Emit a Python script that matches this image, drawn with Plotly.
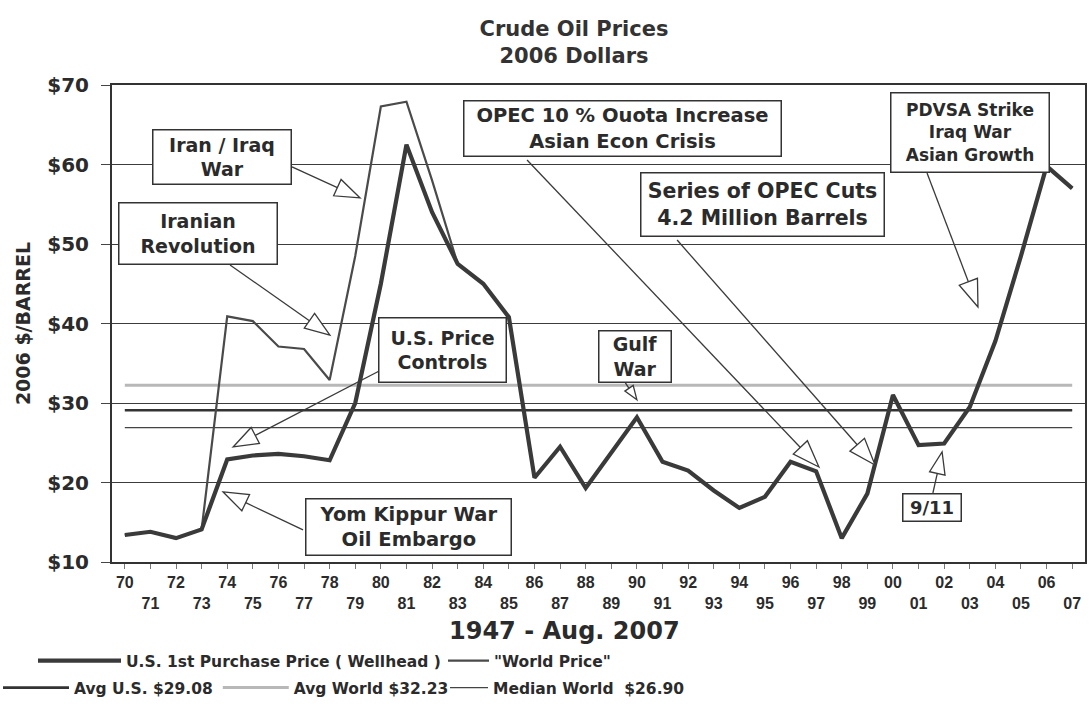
import math
import plotly.graph_objects as go

# ---------------- data ----------------
years = list(range(1970, 2008))
us_price = [13.4, 13.8, 13.0, 14.1, 22.9, 23.4, 23.6, 23.3, 22.8, 30.0,
            45.0, 62.5, 54.0, 47.5, 45.0, 40.8, 20.6, 24.5, 19.3, 23.7,
            28.2, 22.6, 21.5, 19.0, 16.8, 18.2, 22.6, 21.4, 13.0, 18.6,
            31.0, 24.7, 24.9, 29.5, 37.8, 48.5, 59.8, 57.0]
world_price = [13.4, 13.8, 13.0, 14.1, 40.9, 40.3, 37.1, 36.8, 32.9, 48.5,
               67.3, 67.9, 58.0, 47.5, 45.0, 40.8, 20.6, 24.5, 19.3, 23.7,
               28.2, 22.6, 21.5, 19.0, 16.8, 18.2, 22.6, 21.4, 13.0, 18.6,
               31.0, 24.7, 24.9, 29.5, 37.8, 48.5, 59.8, 57.0]
avg_us = 29.08
avg_world = 32.23
median_world = 26.90

tick_text = ["70", "<br>71", "72", "<br>73", "74", "<br>75", "76", "<br>77",
             "78", "<br>79", "80", "<br>81", "82", "<br>83", "84", "<br>85",
             "86", "<br>87", "88", "<br>89", "90", "<br>91", "92", "<br>93",
             "94", "<br>95", "96", "<br>97", "98", "<br>99", "00", "<br>01",
             "02", "<br>03", "04", "<br>05", "06", "<br>07"]

# event boxes: text, centre (year, $), box width/height (px), font size
events = [
    ("Iran / Iraq<br>War", 1973.80, 60.94, 140, 56, 19),
    ("Iranian<br>Revolution", 1972.86, 51.32, 160, 63, 19),
    ("U.S. Price<br>Controls", 1982.41, 36.67, 129, 66, 19),
    ("Yom Kippur War<br>Oil Embargo", 1981.08, 14.40, 207, 58, 19.5),
    ("OPEC 10 % Ouota Increase<br>Asian Econ Crisis", 1989.44, 64.53, 319, 57, 19.5),
    ("Series of OPEC Cuts<br>4.2 Million Barrels", 1994.90, 54.97, 245, 65, 20.5),
    ("Gulf<br>War", 1989.93, 35.85, 74, 53, 19),
    ("PDVSA Strike<br>Iraq War<br>Asian Growth", 2003.01, 64.03, 160, 81, 17),
    ("9/11", 2001.52, 16.86, 60, 29, 18),
]
# pointers: tail (year, $) -> tip (year, $), head length px
pointers = [
    ((1976.53, 59.69), (1979.19, 55.79), 25),
    ((1974.11, 47.36), (1978.01, 38.55), 25),
    ((1980.16, 34.40), (1974.23, 24.47), 25),
    ((1976.96, 14.03), (1973.84, 18.81), 25),
    ((1985.71, 60.57), (1997.11, 21.95), 27),
    ((1991.57, 50.50), (1999.30, 22.20), 27),
    ((1989.55, 32.52), (1990.00, 30.40), 14),
    ((2001.33, 58.93), (2003.32, 42.08), 27),
    ((2001.56, 18.68), (2001.92, 23.84), 22),
]

# ---------------- layout geometry ----------------
W, H = 1089, 712
ML, MR, MT, MB = 112, 4, 85, 150
XR = [1969.5, 2007.5]
YR = [10, 70]
PW, PH = W - ML - MR, H - MT - MB


def to_px(x, y):
    return (ML + (x - XR[0]) / (XR[1] - XR[0]) * PW,
            MT + (YR[1] - y) / (YR[1] - YR[0]) * PH)


def to_data(px, py):
    return (XR[0] + (px - ML) / PW * (XR[1] - XR[0]),
            YR[1] - (py - MT) / PH * (YR[1] - YR[0]))


def paper_y(py):
    return (MT + PH - py) / PH


def paper_x(px):
    return (px - ML) / PW


INK = "#2b2b2b"
WIDE = "DejaVu Sans, Verdana, sans-serif"
NARROW = "Liberation Sans, Arial, sans-serif"
LEG_FONT = dict(family=WIDE, size=15.5, color=INK, weight="bold")

fig = go.Figure()

fig.add_trace(go.Scatter(x=years, y=[avg_world] * len(years), mode="lines",
                         line=dict(color="#b8b8b8", width=3), showlegend=True,
                         name="Avg World $32.23", legend="legend2", legendrank=2))
fig.add_trace(go.Scatter(x=years, y=[median_world] * len(years), mode="lines",
                         line=dict(color="#444444", width=1.4), showlegend=True,
                         name="Median World  $26.90", legend="legend4"))
fig.add_trace(go.Scatter(x=years, y=[avg_us] * len(years), mode="lines",
                         line=dict(color="#333333", width=2.6), showlegend=True,
                         name="Avg U.S. $29.08", legend="legend2", legendrank=1))
fig.add_trace(go.Scatter(x=years, y=world_price, mode="lines",
                         line=dict(color="#4a4a4a", width=2.2), showlegend=True,
                         name='"World Price"', legend="legend3"))
fig.add_trace(go.Scatter(x=years, y=us_price, mode="lines",
                         line=dict(color="#3a3a3a", width=4.2), showlegend=True,
                         name="U.S. 1st Purchase Price ( Wellhead )", legend="legend5"))

annotations = []
for text, x, y, w, h, fs in events:
    annotations.append(dict(
        text=text, x=x, y=y, xref="x", yref="y", showarrow=False,
        xanchor="center", yanchor="middle",
        width=w - 3, height=h - 3, borderwidth=1.5, borderpad=0,
        bordercolor="#333333", bgcolor="white", align="center", valign="middle",
        font=dict(family=WIDE, size=fs, color=INK, weight="bold")))

annotations.append(dict(
    text="1947 - Aug. 2007", xref="paper", yref="paper",
    x=paper_x(564), y=paper_y(631), xanchor="center", yanchor="middle",
    showarrow=False,
    font=dict(family=WIDE, size=24, color=INK, weight="bold")))

shapes = []
for (tx, ty), (hx, hy), L in pointers:
    t_px = to_px(tx, ty)
    h_px = to_px(hx, hy)
    dx, dy = h_px[0] - t_px[0], h_px[1] - t_px[1]
    n = math.hypot(dx, dy)
    ux, uy = dx / n, dy / n
    nx, ny = -uy, ux
    hw = L * 0.36
    bx, by = h_px[0] - L * ux, h_px[1] - L * uy
    p1 = to_data(*h_px)
    p2 = to_data(bx + hw * nx, by + hw * ny)
    p3 = to_data(bx - hw * nx, by - hw * ny)
    b = to_data(bx, by)
    shapes.append(dict(type="line", xref="x", yref="y", x0=tx, y0=ty, x1=b[0], y1=b[1],
                       line=dict(color="#3a3a3a", width=1.3)))
    shapes.append(dict(type="path", xref="x", yref="y",
                       path=f"M{p1[0]},{p1[1]} L{p2[0]},{p2[1]} L{p3[0]},{p3[1]} Z",
                       fillcolor="white", line=dict(color="#3a3a3a", width=1.3)))

fig.update_layout(
    width=W, height=H,
    margin=dict(l=ML, r=MR, t=MT, b=MB, autoexpand=False),
    paper_bgcolor="white", plot_bgcolor="white",
    showlegend=True,
    font=dict(family=WIDE, color=INK),
    title=dict(text="Crude Oil Prices<br>2006 Dollars", x=574 / W, xanchor="center",
               y=1 - 36 / H, yanchor="top", yref="container",
               font=dict(family=WIDE, size=21, color="#333333", weight="bold")),
    xaxis=dict(range=XR, tickmode="array", tickvals=years, ticktext=tick_text,
               ticks="outside", ticklen=5, tickwidth=1, tickcolor="#777777",
               showgrid=False, zeroline=False, showline=True, linecolor="#333333",
               linewidth=2, mirror=True,
               tickfont=dict(family=NARROW, size=16, color=INK, weight="bold")),
    yaxis=dict(range=YR, tickmode="linear", tick0=10, dtick=10, tickprefix="$",
               ticks="outside", ticklen=9, tickwidth=1.3, tickcolor="#444444",
               ticklabelstandoff=8,
               showgrid=True, gridcolor="#3c3c3c", gridwidth=1.3, zeroline=False,
               showline=True, linecolor="#333333", linewidth=2, mirror=True,
               tickfont=dict(family=WIDE, size=20, color=INK, weight="bold"),
               title=dict(text="2006 $/BARREL", standoff=12,
                          font=dict(family=WIDE, size=19, color=INK, weight="bold"))),
    legend=dict(visible=False),
    legend5=dict(orientation="h", x=paper_x(33), xanchor="left",
                 y=paper_y(661), yanchor="middle", itemwidth=83, visible=True,
                 font=LEG_FONT, bgcolor="rgba(0,0,0,0)"),
    legend3=dict(orientation="h", x=paper_x(443), xanchor="left",
                 y=paper_y(661), yanchor="middle", itemwidth=41, visible=True,
                 font=LEG_FONT, bgcolor="rgba(0,0,0,0)"),
    legend2=dict(orientation="h", x=paper_x(-2), xanchor="left",
                 y=paper_y(688), yanchor="middle", itemwidth=66, visible=True,
                 traceorder="normal",
                 font=LEG_FONT, bgcolor="rgba(0,0,0,0)"),
    legend4=dict(orientation="h", x=paper_x(445), xanchor="left",
                 y=paper_y(688), yanchor="middle", itemwidth=38, visible=True,
                 font=LEG_FONT, bgcolor="rgba(0,0,0,0)"),
    annotations=annotations,
    shapes=shapes,
)

fig.write_html("out.html", config={"displayModeBar": False},
               post_script="document.body.style.margin='0px';")
